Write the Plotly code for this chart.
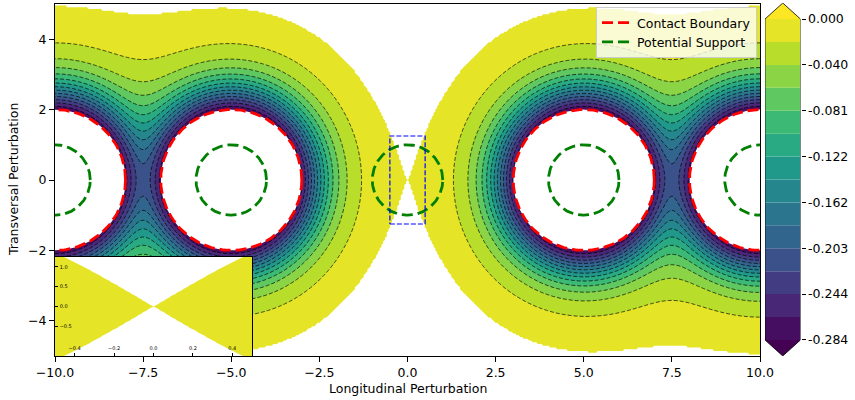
import numpy as np
import plotly.graph_objects as go
from plotly.colors import sample_colorscale, get_colorscale

# ---------------- data ----------------
LATTICE_X = [-15.0, -10.0, -5.0, 5.0, 10.0, 15.0]     # occupied sites
LATTICE_Y = [0.0, 0.0, 0.0, 0.0, 0.0, 0.0]
CONTACT_RADIUS = 2.0
SUPPORT_X = [-10.0, -5.0, 0.0, 5.0, 10.0]
SUPPORT_Y = [0.0, 0.0, 0.0, 0.0, 0.0]
SUPPORT_RADIUS = 1.0
VACANCY_X = 0.0
VACANCY_Y = 0.0

PAIR_STRENGTH = 93.8          # attraction strength per site
PAIR_POWER = 6.4              # attraction decay exponent
SATURATION = 0.35             # saturation of the summed attraction
TRANSVERSE_STRETCH = 1.04
VACANCY_BUMP = 0.00126
VACANCY_WIDTH_X = 2.5
VACANCY_WIDTH_Y = 6.0

LEVEL_MIN = -0.284
LEVEL_MAX = 0.0
N_LEVELS = 15
CBAR_TICK_LABELS = ["-0.284", "-0.244", "-0.203", "-0.162", "-0.122", "-0.081", "-0.040", "0.000"]

X_RANGE = [-10.0, 10.0]
Y_RANGE = [-5.0, 5.0]
X_TICKS = [-10.0, -7.5, -5.0, -2.5, 0.0, 2.5, 5.0, 7.5, 10.0]
Y_TICKS = [-4, -2, 0, 2, 4]
INSET_X = [-0.5, 0.5]
INSET_Y = [-1.25, 1.25]
INSET_X_TICKS = [-0.4, -0.2, 0.0, 0.2, 0.4]
INSET_Y_TICKS = [-1.0, -0.5, 0.0, 0.5, 1.0]

# ---------------- field ----------------
def field(xx, yy):
    u = np.zeros_like(xx, dtype=float)
    for cx, cy in zip(LATTICE_X, LATTICE_Y):
        r = np.hypot(xx - cx, (yy - cy) / TRANSVERSE_STRETCH)
        r = np.maximum(r, 0.2)
        u = u + PAIR_STRENGTH * r ** (-PAIR_POWER)
    f = -SATURATION * u / (SATURATION + u)
    f = f + VACANCY_BUMP * np.exp(-((xx - VACANCY_X) / VACANCY_WIDTH_X) ** 2
                                  - ((yy - VACANCY_Y) / VACANCY_WIDTH_Y) ** 2)
    return f

xs = np.linspace(X_RANGE[0], X_RANGE[1], 401)
ys = np.linspace(Y_RANGE[0], Y_RANGE[1], 201)
XX, YY = np.meshgrid(xs, ys)
F = field(XX, YY)
F0 = float(field(np.array(VACANCY_X), np.array(VACANCY_Y)))
levels = np.linspace(LEVEL_MIN, LEVEL_MAX, N_LEVELS)
step = levels[1] - levels[0]
MASKED = LEVEL_MAX + step
Ffill = np.where(F > F0 * (1 - 1e-9), MASKED, F)

xi = np.linspace(INSET_X[0], INSET_X[1], 201)
yi = np.linspace(INSET_Y[0], INSET_Y[1], 201)
XI, YI = np.meshgrid(xi, yi)
FI = field(XI, YI)
FIfill = np.where(FI > F0 * (1 - 1e-9), MASKED, FI)

# ---------------- colours ----------------
vir = get_colorscale("Viridis")
nb = N_LEVELS - 1
band_cols = sample_colorscale(vir, [(k + 0.5) / nb for k in range(nb)])
under_col = sample_colorscale(vir, [0.0])[0]
over_col = sample_colorscale(vir, [1.0])[0]
region_cols = [under_col] + band_cols + ["rgb(255,255,255)"]
nreg = len(region_cols)
cscale = []
for j, c in enumerate(region_cols):
    lo = max(0.0, (j - 0.5) / (nreg - 1))
    hi = min(1.0, (j + 0.5) / (nreg - 1))
    cscale.append([lo, c])
    cscale.append([hi, c])

FONT = "DejaVu Sans"
fig = go.Figure()

contours_fill = dict(start=LEVEL_MIN, end=LEVEL_MAX, size=step, coloring="fill", showlines=False)
fig.add_trace(go.Contour(x=xs, y=ys, z=Ffill, autocontour=False, contours=contours_fill,
                         colorscale=cscale, showscale=False, line=dict(width=0),
                         hoverinfo="skip", showlegend=False))
fig.add_trace(go.Contour(x=xs, y=ys, z=F, autocontour=False,
                         contours=dict(start=levels[1], end=levels[-2], size=step, coloring="none"),
                         line=dict(color="rgba(0,0,0,0.68)", width=1.0, dash="4px,2px"),
                         showscale=False, hoverinfo="skip", showlegend=False))

theta = np.linspace(0, 2 * np.pi, 241)
def circles(cxs, cys, rad):
    cx_all, cy_all = [], []
    for cx, cy in zip(cxs, cys):
        cx_all += list(cx + rad * np.cos(theta)) + [None]
        cy_all += list(cy + rad * np.sin(theta)) + [None]
    return cx_all, cy_all

cxw, cyw = circles(LATTICE_X, LATTICE_Y, CONTACT_RADIUS)
fig.add_trace(go.Scatter(x=cxw, y=cyw, mode="lines", fill="toself", fillcolor="white",
                         line=dict(width=0, color="white"), hoverinfo="skip", showlegend=False))
fig.add_trace(go.Scatter(x=cxw, y=cyw, mode="lines", name="Contact Boundary",
                         line=dict(color="red", width=2.8, dash="11px,5px"), hoverinfo="skip"))
sxs, sys_ = circles(SUPPORT_X, SUPPORT_Y, SUPPORT_RADIUS)
fig.add_trace(go.Scatter(x=sxs, y=sys_, mode="lines", name="Potential Support",
                         line=dict(color="green", width=2.8, dash="11px,5px"), hoverinfo="skip"))
bx = [INSET_X[0], INSET_X[1], INSET_X[1], INSET_X[0], INSET_X[0]]
by = [INSET_Y[0], INSET_Y[0], INSET_Y[1], INSET_Y[1], INSET_Y[0]]
fig.add_trace(go.Scatter(x=bx, y=by, mode="lines", line=dict(color="blue", width=1.2, dash="5px,2px"),
                         hoverinfo="skip", showlegend=False))

# ---------------- colorbar ----------------
ext = 0.0142
fig.add_trace(go.Bar(x=[0] * nb, y=list(np.diff(levels)), base=list(levels[:-1]), width=1,
                     marker=dict(color=band_cols, line=dict(width=0)),
                     xaxis="x2", yaxis="y2", hoverinfo="skip", showlegend=False))
fig.add_trace(go.Scatter(x=[-0.5, 0.5, 0, -0.5], y=[LEVEL_MAX, LEVEL_MAX, LEVEL_MAX + ext, LEVEL_MAX],
                         fill="toself", fillcolor=over_col, mode="lines", line=dict(width=0),
                         xaxis="x2", yaxis="y2", hoverinfo="skip", showlegend=False))
fig.add_trace(go.Scatter(x=[-0.5, 0.5, 0, -0.5], y=[LEVEL_MIN, LEVEL_MIN, LEVEL_MIN - ext, LEVEL_MIN],
                         fill="toself", fillcolor=under_col, mode="lines", line=dict(width=0),
                         xaxis="x2", yaxis="y2", hoverinfo="skip", showlegend=False))
fig.add_trace(go.Scatter(x=[-0.5, -0.5, 0, 0.5, 0.5, 0, -0.5],
                         y=[LEVEL_MIN, LEVEL_MAX, LEVEL_MAX + ext, LEVEL_MAX, LEVEL_MIN, LEVEL_MIN - ext, LEVEL_MIN],
                         mode="lines", line=dict(color="black", width=0.8),
                         xaxis="x2", yaxis="y2", hoverinfo="skip", showlegend=False))

# ---------------- inset ----------------
fig.add_trace(go.Contour(x=xi, y=yi, z=FIfill, autocontour=False, contours=contours_fill,
                         colorscale=cscale, showscale=False, line=dict(width=0),
                         xaxis="x3", yaxis="y3", hoverinfo="skip", showlegend=False))

W, H = 855, 400
def px_x(p): return p / W
def px_y(p): return 1 - p / H

tickfont = dict(family=FONT, size=12.5, color="black")
small = dict(family=FONT, size=5, color="black")
fig.update_layout(
    width=W, height=H, margin=dict(l=0, r=0, t=0, b=0, autoexpand=False),
    paper_bgcolor="white", plot_bgcolor="white",
    font=dict(family=FONT, size=12.5, color="black"),
    barmode="overlay",
    xaxis=dict(domain=[px_x(55), px_x(760)], range=X_RANGE, tickvals=X_TICKS, tickformat=".1f",
               ticks="outside", ticklen=5, tickwidth=1, tickcolor="black", showline=True,
               linecolor="black", linewidth=1, mirror=True, showgrid=False, zeroline=False,
               tickfont=tickfont, anchor="y", automargin=False),
    yaxis=dict(domain=[px_y(356), px_y(4)], range=Y_RANGE, tickvals=Y_TICKS,
               ticks="outside", ticklen=5, tickwidth=1, tickcolor="black", showline=True,
               linecolor="black", linewidth=1, mirror=True, showgrid=False, zeroline=False,
               tickfont=tickfont, anchor="x", automargin=False),
    xaxis2=dict(domain=[px_x(765), px_x(800.5)], range=[-0.5, 0.5], visible=False, anchor="y2",
                automargin=False),
    yaxis2=dict(domain=[px_y(356), px_y(3)], range=[LEVEL_MIN - ext, LEVEL_MAX + ext], side="right",
                tickvals=list(levels[::2]), ticktext=CBAR_TICK_LABELS, ticks="outside", ticklen=4,
                tickwidth=1, tickcolor="black", showline=False, showgrid=False, zeroline=False,
                tickfont=tickfont, anchor="x2", automargin=False),
    xaxis3=dict(domain=[px_x(55), px_x(252)], range=INSET_X, tickvals=INSET_X_TICKS,
                ticktext=[f"{v:.1f}".replace("-", "\u2212") for v in INSET_X_TICKS],
                ticks="inside", ticklen=2.5, tickcolor="black", ticklabelposition="inside",
                showline=True, linecolor="black", linewidth=1.3, mirror=True, showgrid=False,
                zeroline=False, tickfont=small, anchor="y3", automargin=False),
    yaxis3=dict(domain=[px_y(356), px_y(257)], range=INSET_Y, tickvals=INSET_Y_TICKS,
                ticktext=[f"{v:.1f}".replace("-", "\u2212") for v in INSET_Y_TICKS],
                ticks="inside", ticklen=2.5, tickcolor="black", ticklabelposition="inside",
                showline=True, linecolor="black", linewidth=1.3, mirror=True, showgrid=False,
                zeroline=False, tickfont=small, anchor="x3", automargin=False),
    legend=dict(x=px_x(757), xanchor="right", y=px_y(7), yanchor="top",
                bgcolor="rgba(255,255,255,0.8)", bordercolor="#cccccc", borderwidth=1,
                font=dict(family=FONT, size=12.5, color="black"), itemwidth=30, tracegroupgap=0),
    annotations=[
        dict(text="Longitudinal Perturbation", x=px_x(407.5), y=px_y(388), xref="paper", yref="paper",
             showarrow=False, xanchor="center", yanchor="middle", font=dict(family=FONT, size=12.5)),
        dict(text="Transversal Perturbation", x=px_x(14), y=px_y(180), xref="paper", yref="paper",
             showarrow=False, xanchor="center", yanchor="middle", textangle=-90,
             font=dict(family=FONT, size=12.5)),
    ],
)

fig.write_html("out.html", config={"displayModeBar": False},
               post_script="document.body.style.margin='0px';document.body.style.overflow='hidden';")
